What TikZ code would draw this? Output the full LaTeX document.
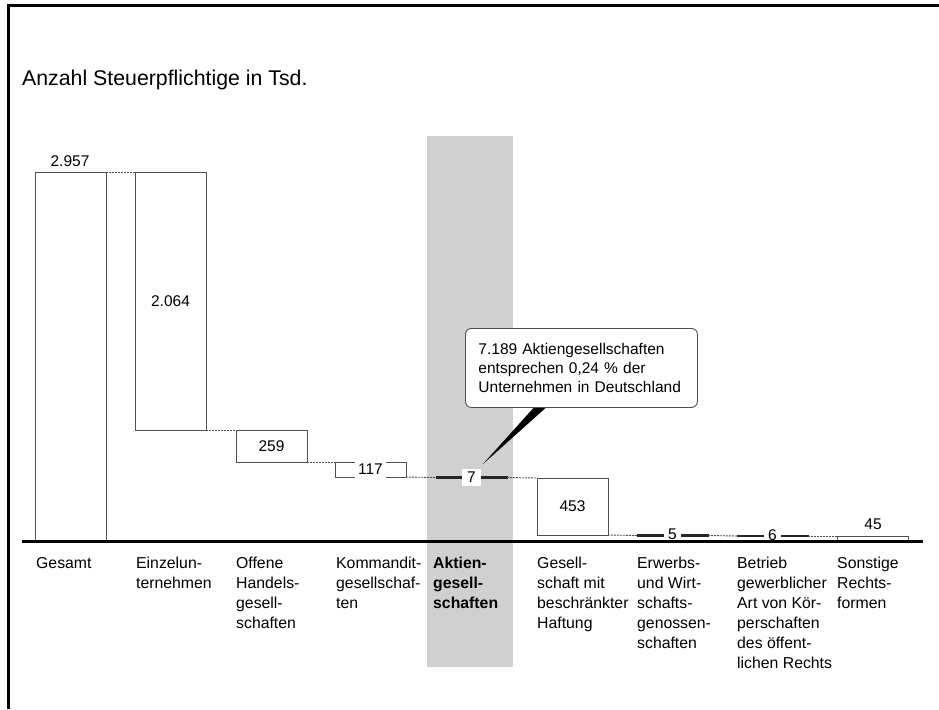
\documentclass[tikz,border=0pt]{standalone}
\usepackage{fontspec}
\setmainfont{Liberation Sans}
\definecolor{band}{RGB}{208,208,208}
\definecolor{edge}{RGB}{80,80,80}
\begin{document}
\begin{tikzpicture}[x=1pt,y=-1pt,
  bar/.style={draw=edge, line width=1pt, fill=white, rectangle, anchor=north west,
    inner sep=0pt, outer sep=0pt, minimum width=71pt},
  flatbar/.style={draw=black!85, fill=black!85, line width=1pt, rectangle, anchor=west,
    inner sep=0pt, outer sep=0pt, minimum width=71pt, minimum height=1.3pt},
  link/.style={draw=edge, line width=0.9pt, dash pattern=on 2pt off 1pt},
  val/.style={font=\fontsize{15.5}{19}\selectfont, inner sep=1pt},
  gap/.style={val, fill=white, inner xsep=4pt, inner ysep=3pt},
  cat/.style={font=\fontsize{15.8}{20}\selectfont, align=left, anchor=north west, inner sep=0pt},
  callout/.style={draw=edge, line width=0.9pt, fill=white, rounded corners=6pt,
    anchor=north west, inner xsep=13pt, text width=206pt, minimum height=79pt,
    align=left, font=\fontsize{15.5}{19}\selectfont},
]
\useasboundingbox (0,0) rectangle (939,709);

% outer frame (left and top edges)
\draw[line width=3pt] (8.5,709) -- (8.5,6) -- (939,6);

% title
\node[anchor=base west, inner sep=0pt, font=\fontsize{21.3}{25}\selectfont] (title) at (22,85)
  {Anzahl Steuerpflichtige in Tsd.};

% highlight band for Aktiengesellschaften
\fill[band] (427,136) rectangle (513,667);

% waterfall bars
\node[bar, minimum height=369pt] (g) at (35,172) {};
\node[bar, minimum height=258pt] (e) at (135,172) {};
\node[bar, minimum height=32pt]  (o) at (236,430) {};
\node[bar, minimum height=15pt]  (k) at (335,462) {};
\node[flatbar] (a) at (436,477.5) {};
\node[bar, minimum height=57pt]  (h) at (537,478) {};
\node[flatbar] (w) at (637,535.5) {};
\node[flatbar] (b) at (737,536) {};
\node[bar, minimum height=5pt]   (s) at (837,536) {};

% dotted step connectors
\draw[link] (g.north east) -- (e.north west);
\draw[link] (e.south east) -- (o.north west);
\draw[link] (o.south east) -- (k.north west);
\draw[link] (k.south east) -- (a.west);
\draw[link] (a.east) -- (h.north west);
\draw[link] (h.south east) -- (w.west);
\draw[link] (w.east) -- (b.west);
\draw[link] (b.east) -- (s.north west);

% values
\node[val] (vg) at (70,161) {2.957};
\node[val] (ve) at (e.center) {2.064};
\node[val] (vo) at (o.center) {259};
\node[gap, inner xsep=3pt, inner ysep=4.5pt] (vk) at (k.center) {117};
\node[gap, inner xsep=5pt] (va) at (a.center) {7};
\node[val] (vh) at (h.center) {453};
\node[gap] (vw) at ([yshift=1pt]w.center) {5};
\node[gap] (vb) at ([yshift=1pt]b.center) {6};
\node[val] (vs) at (873,524) {45};

% axis
\draw[line width=3pt] (22,541) -- (923,541);

% category labels
\node[cat] (cg) at (36,557) {Gesamt};
\node[cat] (ce) at (136,557) {Einzelun-\\ternehmen};
\node[cat] (co) at (236,557) {Offene\\Handels-\\gesell-\\schaften};
\node[cat] (ck) at (336,557) {Kommandit-\\gesellschaf-\\ten};
\node[cat, font=\fontsize{15.8}{20}\selectfont\bfseries] (ca) at (433,557) {Aktien-\\gesell-\\schaften};
\node[cat] (ch) at (537,557) {Gesell-\\schaft mit\\beschränkter\\Haftung};
\node[cat] (cw) at (637,557) {Erwerbs-\\und Wirt-\\schafts-\\genossen-\\schaften};
\node[cat] (cb) at (737,557) {Betrieb\\gewerblicher\\Art von Kör-\\perschaften\\des öffent-\\lichen Rechts};
\node[cat] (cs) at (837,557) {Sonstige\\Rechts-\\formen};

% callout with pointer to the Aktiengesellschaften bar
\coordinate (tip) at (483,464);
\fill[black] (537,404) -- (550,404) -- (tip) -- cycle;
\node[callout] (c) at (465,328)
  {7.189 Aktiengesellschaften\\entsprechen 0,24 \% der\\Unternehmen in Deutschland};
\end{tikzpicture}
\end{document}
